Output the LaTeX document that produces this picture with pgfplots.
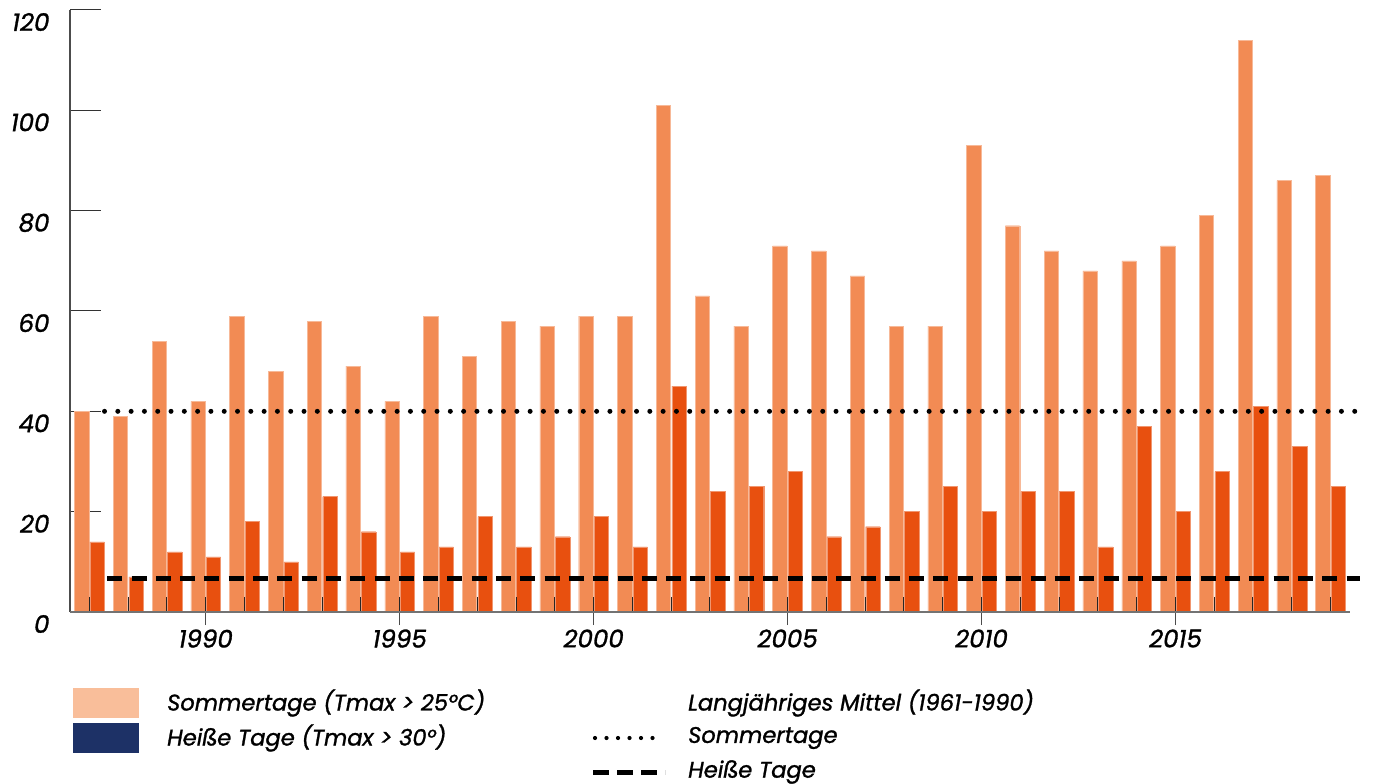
\documentclass[border=0pt]{standalone}
\usepackage{pgfplots}
\usepackage{pgfplotstable}
\pgfplotsset{compat=1.18}
\usepackage{fontspec}
\setmainfont{Poppins}[ItalicFeatures={FakeBold=1.2}]
\definecolor{lightbar}{HTML}{F28B54}
\definecolor{darkbar}{HTML}{E8500F}
\definecolor{legpeach}{HTML}{F9BE9A}
\definecolor{legnavy}{HTML}{1D3166}
\pgfplotstableread{
year s h
1987 40 14
1988 39 7
1989 54 12
1990 42 11
1991 59 18
1992 48 10
1993 58 23
1994 49 16
1995 42 12
1996 59 13
1997 51 19
1998 58 13
1999 57 15
2000 59 19
2001 59 13
2002 101 45
2003 63 24
2004 57 25
2005 73 28
2006 72 15
2007 67 17
2008 57 20
2009 57 25
2010 93 20
2011 77 24
2012 72 24
2013 68 13
2014 70 37
2015 73 20
2016 79 28
2017 114 41
2018 86 33
2019 87 25
}\data
\pgfplotsset{
  base/.style={
    scale only axis, width=1280pt, height=602pt,
    xmin=1986.5, xmax=2019.5, ymin=0, ymax=120,
    clip=false,
    ticklabel style={font=\itshape\fontsize{24.5}{28}\selectfont},
    /pgf/number format/assume math mode=true,
    /pgf/number format/1000 sep={},
  }
}
\begin{document}
\begin{tikzpicture}
\useasboundingbox (-70pt,-172pt) rectangle (1303pt,612pt);
\begin{axis}[base,
  axis lines*=left,
  x axis line style={draw=black!55, line width=2pt},
  y axis line style={draw=black!70, line width=1.2pt},
  xtick=\empty,
  ytick={0,20,...,120},
  tick align=inside,
  major tick length=31pt,
  ytick style={draw=black!80, line width=1pt},
  yticklabel style={anchor=east, xshift=-17pt, yshift=-12pt},
]
\addplot[ybar, bar width=0.37, bar shift=-0.2, fill=lightbar, draw=lightbar!60!white, line width=0.4pt] table[x=year,y=s]{\data};
\addplot[ybar, bar width=0.37, bar shift=0.2, fill=darkbar, draw=darkbar!60!white, line width=0.4pt] table[x=year,y=h]{\data};
\addplot[black, line width=5pt, line cap=round, dash pattern=on 0pt off 13.3pt] coordinates {(1987.39,40) (2019.75,40)};
\addplot[black, line width=5pt, dash pattern=on 15pt off 9.3pt] coordinates {(1987.46,6.6) (2019.75,6.6)};
\end{axis}
\begin{axis}[base,
  axis x line*=bottom, hide y axis,
  x axis line style={draw=black!55, line width=2pt},
  xtick={1987,...,2019}, xticklabels={},
  tick align=inside, major tick length=15pt,
  xtick style={draw=black!85, line width=1pt},
]
\end{axis}
\begin{axis}[base,
  axis x line*=bottom, hide y axis,
  x axis line style={draw=black!55, line width=2pt},
  xtick={1990,1995,...,2015},
  tick align=outside, major tick length=13pt,
  xtick style={draw=black!70, line width=1pt},
  xticklabel style={yshift=-1pt},
]
\end{axis}
% legend
\fill[legpeach] (3pt,-76pt) rectangle (69pt,-106pt);
\fill[legnavy] (3pt,-111pt) rectangle (69pt,-141pt);
\begin{scope}[every node/.style={anchor=west, inner sep=0pt, font=\itshape\fontsize{22.6}{26}\selectfont}]
\node at (97pt,-91pt) {Sommertage (Tmax > 25°C)};
\node at (97pt,-126pt) {Heiße Tage (Tmax > 30°)};
\node at (618pt,-91pt) {Langjähriges Mittel (1961-1990)};
\node at (618pt,-126pt) {Sommertage};
\node at (618pt,-160pt) {Heiße Tage};
\end{scope}
\draw[black, line width=4.2pt, line cap=round, dash pattern=on 0pt off 11.5pt] (525pt,-126pt) -- (593pt,-126pt);
\draw[black, line width=5pt, dash pattern=on 16pt off 8pt] (523pt,-160pt) -- (595pt,-160pt);
\end{tikzpicture}
\end{document}
